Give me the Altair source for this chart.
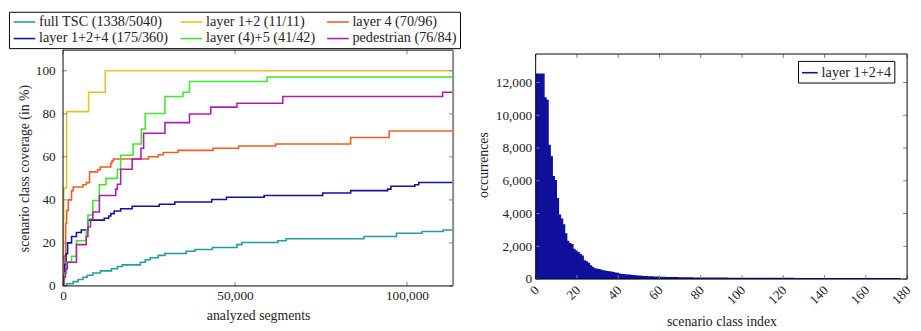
import altair as alt
import pandas as pd

FONT = "Liberation Serif"
TXT = "#222222"
TICK = "#808080"

# ---------------- left panel: coverage curves ----------------
SERIES = ["full TSC (1338/5040)", "layer 1+2 (11/11)", "layer 4 (70/96)",
          "layer 1+2+4 (175/360)", "layer (4)+5 (41/42)", "pedestrian (76/84)"]
COLORS = ["#21a09b", "#e9c21c", "#f25c22", "#13139e", "#40e82c", "#b11db1"]
# legend is filled column by column (2 rows x 3 columns)
LEGEND_ORDER = [0, 3, 1, 4, 2, 5]

TSC_X = [0, 1050, 2950, 4380, 5810, 7050, 8670, 10860, 14100, 15810, 17230, 22480, 23910,
         25340, 27710, 29620, 35810, 38380, 43430, 50570, 52000, 62480, 64860, 87520,
         96950, 104380, 110570]
TSC_Y = [0, 1, 2, 3, 4, 5, 6, 7, 8, 9, 9.8, 11, 12.2, 13.1, 14.2, 15.1, 16.1, 16.9, 17.9,
         19.2, 20.2, 21, 21.9, 23, 24.5, 25.3, 26]

L12_X = [0, 100, 200, 1050, 7430, 12290]
L12_Y = [12, 30, 45.5, 81, 90, 100]

L4_X = [0, 150, 370, 770, 1050, 1520, 2480, 2950, 5810, 6760, 7710, 10100, 10860, 13900,
        14200, 14670, 24860, 27710, 29140, 33430, 43630, 51050, 61800, 83630, 94860]
L4_Y = [0, 5, 14, 29, 35, 40, 44.3, 46, 47, 48, 53, 54, 55.3, 57, 58, 59, 60, 61, 62, 63,
        64, 65, 66, 69, 72]

L124_X = [0, 200, 500, 900, 1340, 2480, 3900, 5300, 7240, 12000, 13300, 13900, 14860,
          16760, 20100, 28000, 32480, 43230, 47520, 58480, 75510, 83630, 94380, 95340,
          102290, 103430]
L124_Y = [0, 4, 10, 15, 20, 23, 24.8, 26, 30.6, 31.5, 32.5, 33.6, 34.8, 35.9, 37, 38, 39,
          40.2, 41.2, 42, 43.2, 44.3, 45, 46.3, 47, 48.1]

L45_X = [0, 200, 500, 1050, 2480, 3900, 6760, 7240, 8670, 10570, 12480, 15810, 16760,
         20380, 22770, 23910, 29630, 34860, 36770, 59340]
L45_Y = [0, 3, 6, 11.1, 13.8, 21, 26, 33, 39.7, 47, 50, 54.2, 60.7, 66, 72.9, 80.1, 88,
         90, 95, 97.1]

PED_X = [0, 200, 700, 1240, 3900, 6760, 7240, 8000, 8670, 10570, 15340, 15800, 16760,
         20100, 22660, 23430, 29630, 36770, 42950, 50570, 63900, 110380]
PED_Y = [0, 4, 8, 11, 19.2, 23, 27.5, 31, 34.4, 42, 45, 47.3, 54.2, 59, 64, 71, 75.9,
         79.9, 83.1, 84.9, 88, 90]

CURVES_X = [TSC_X, L12_X, L4_X, L124_X, L45_X, PED_X]
CURVES_Y = [TSC_Y, L12_Y, L4_Y, L124_Y, L45_Y, PED_Y]

LEFT_XTICKS = [0, 50000, 100000]
LEFT_YTICKS = [0, 20, 40, 60, 80, 100]
X_MAX = 113430
Y_MAX = 109.6

# ---------------- right panel: histogram ----------------
HIST_NAME = "layer 1+2+4"
HIST_COLOR = "#10109c"
HIST_COUNTS = [
    12500, 12500, 12500, 12500, 11050, 10900, 8150, 7450, 6250, 6000,
    4900, 3900, 3650, 3300, 2750, 2300, 2150, 2100, 1800, 1700,
    1600, 1500, 1400, 1100, 1050, 950, 800, 700, 620, 600,
    570, 540, 500, 480, 450, 430, 410, 390, 360, 340,
    300, 270, 260, 250, 240, 230, 210, 200, 190, 180,
    170, 150, 140, 135, 130, 125, 120, 115, 110, 105,
    100, 95, 90, 88, 85, 82, 80, 78, 75, 72,
    70, 68, 66, 64, 62, 60, 58, 56, 54, 53,
    52, 51, 50, 49, 48, 47, 46, 45, 45, 44,
    44, 43, 43, 42, 42, 41, 41, 40, 40, 39,
    38, 38, 37, 37, 36, 36, 35, 35, 34, 34,
    33, 33, 32, 32, 31, 31, 30, 30, 30, 29,
    29, 29, 28, 28, 28, 27, 27, 27, 26, 26,
    26, 25, 25, 25, 24, 24, 24, 23, 23, 23,
    22, 22, 22, 21, 21, 21, 20, 20, 20, 20,
    19, 19, 19, 19, 18, 18, 18, 18, 17, 17,
    17, 17, 16, 16, 16, 16, 15, 15, 15, 15,
    14, 14, 14, 14, 13, 13, 12]
RIGHT_XTICKS = [0, 20, 40, 60, 80, 100, 120, 140, 160, 180]
RIGHT_YTICKS = [0, 2000, 4000, 6000, 8000, 10000, 12000]
HX_MAX = 180
HY_MAX = 13980

# ---------------- build tables ----------------
rows = []
for name, xs, ys in zip(SERIES, CURVES_X, CURVES_Y):
    for x, y in zip(xs, ys):
        rows.append({"series": name, "x": x, "y": y})
    rows.append({"series": name, "x": X_MAX, "y": ys[-1]})
cov = pd.DataFrame(rows)

hist_rows = [{"series": HIST_NAME, "x": i, "y": c} for i, c in enumerate(HIST_COUNTS)]
hist_rows.append({"series": HIST_NAME, "x": len(HIST_COUNTS), "y": HIST_COUNTS[-1]})
hist = pd.DataFrame(hist_rows)

one = pd.DataFrame({"k": [0]})

W1, H1 = 397, 240
W2, H2 = 378, 233
TOP2 = 4  # right panel frame starts a little lower

axis_common = dict(ticks=False, domain=False, grid=False, labelFont=FONT,
                   labelFontSize=13.5, labelColor=TXT, titleFont=FONT, titleFontSize=14,
                   titleFontWeight="normal", titleColor=TXT, labelFlush=False,
                   labelOverlap=False)


def tick_layers(xticks, yticks, xs, ys, xa, ya, w, h, top):
    tx = pd.DataFrame({"x": xticks})
    ty = pd.DataFrame({"y": yticks})
    out = []
    out.append(alt.Chart(tx).mark_rule(color=TICK, strokeWidth=1).encode(
        x=alt.X("x:Q", scale=xs, axis=xa), y=alt.value(h), y2=alt.value(h - 4)))
    out.append(alt.Chart(tx).mark_rule(color=TICK, strokeWidth=1).encode(
        x=alt.X("x:Q", scale=xs, axis=xa), y=alt.value(top), y2=alt.value(top + 4)))
    out.append(alt.Chart(ty).mark_rule(color=TICK, strokeWidth=1).encode(
        y=alt.Y("y:Q", scale=ys, axis=ya), x=alt.value(0), x2=alt.value(4)))
    out.append(alt.Chart(ty).mark_rule(color=TICK, strokeWidth=1).encode(
        y=alt.Y("y:Q", scale=ys, axis=ya), x=alt.value(w), x2=alt.value(w - 4)))
    return out


def frame_layers(w, h, top, right_color, right_width):
    base = alt.Chart(one)
    return [
        base.mark_rule(color="black", strokeWidth=1).encode(
            x=alt.value(0), x2=alt.value(w), y=alt.value(top)),
        base.mark_rule(color="black", strokeWidth=1).encode(
            x=alt.value(0), x2=alt.value(w), y=alt.value(h)),
        base.mark_rule(color="black", strokeWidth=1).encode(
            x=alt.value(0), y=alt.value(top), y2=alt.value(h)),
        base.mark_rule(color=right_color, strokeWidth=right_width).encode(
            x=alt.value(w), y=alt.value(top), y2=alt.value(h)),
    ]


# left chart
xs1 = alt.Scale(domain=[0, X_MAX], nice=False, zero=False)
ys1 = alt.Scale(domain=[0, Y_MAX], nice=False)
x_axis1 = alt.Axis(values=LEFT_XTICKS, format=",.0f", title="analyzed segments",
                   labelPadding=3, titlePadding=7, **axis_common)
y_axis1 = alt.Axis(values=LEFT_YTICKS, format=".0f", title="scenario class coverage (in %)",
                   labelPadding=8, titlePadding=4, **axis_common)

lines = alt.Chart(cov).mark_line(interpolate="step-after", strokeWidth=1.6, clip=True).encode(
    x=alt.X("x:Q", scale=xs1, axis=x_axis1),
    y=alt.Y("y:Q", scale=ys1, axis=y_axis1),
    color=alt.Color("series:N",
                    scale=alt.Scale(domain=[SERIES[i] for i in LEGEND_ORDER],
                                    range=[COLORS[i] for i in LEGEND_ORDER]),
                    legend=alt.Legend(orient="none", legendX=-55, legendY=-39, columns=3,
                                      symbolType="M-1,0H3", symbolSize=121,
                                      symbolStrokeWidth=1.6, labelFont=FONT,
                                      labelFontSize=14.5, labelColor=TXT,
                                      strokeColor="black", fillColor="white", padding=3,
                                      columnPadding=8, rowPadding=2, labelOffset=13,
                                      title=None)),
)

left = alt.layer(lines,
                 *tick_layers(LEFT_XTICKS, LEFT_YTICKS, xs1, ys1, x_axis1, y_axis1, W1, H1, 0),
                 *frame_layers(W1, H1, 0, "#8a8a8a", 2)).properties(width=W1, height=H1)

# right chart
xs2 = alt.Scale(domain=[0, HX_MAX], nice=False, zero=False)
ys2 = alt.Scale(domain=[0, HY_MAX], nice=False)
x_axis2 = alt.Axis(values=RIGHT_XTICKS, format=".0f", title="scenario class index",
                   labelAngle=315, labelAlign="right", labelBaseline="middle",
                   labelOffset=1, labelPadding=9, titlePadding=8, **axis_common)
y_axis2 = alt.Axis(values=RIGHT_YTICKS, format=",.0f", title="occurrences", labelPadding=4,
                   titlePadding=5, **axis_common)

area = alt.Chart(hist).mark_area(interpolate="step-after", color=HIST_COLOR, clip=True).encode(
    x=alt.X("x:Q", scale=xs2, axis=x_axis2),
    y=alt.Y("y:Q", scale=ys2, axis=y_axis2),
)
outline = alt.Chart(hist).mark_line(interpolate="step-after", strokeWidth=1.5, clip=True).encode(
    x=alt.X("x:Q", scale=xs2, axis=x_axis2),
    y=alt.Y("y:Q", scale=ys2, axis=y_axis2),
    color=alt.Color("series:N", scale=alt.Scale(domain=[HIST_NAME], range=[HIST_COLOR]),
                    legend=alt.Legend(orient="none", legendX=267, legendY=11,
                                      symbolType="stroke", symbolSize=256,
                                      symbolStrokeWidth=1.6, labelFont=FONT,
                                      labelFontSize=14.5, labelColor=TXT,
                                      strokeColor="black", fillColor="white", padding=3,
                                      labelOffset=3, title=None)),
)
spacer = alt.Chart(one).mark_rule(strokeOpacity=0).encode(
    x=alt.value(0), x2=alt.value(2), y=alt.value(-39.5))

right = alt.layer(area, outline,
                  *tick_layers(RIGHT_XTICKS, RIGHT_YTICKS, xs2, ys2, x_axis2, y_axis2,
                               W2, H2, TOP2),
                  *frame_layers(W2, H2, TOP2, "black", 1),
                  spacer).properties(width=W2, height=H2)

chart = alt.hconcat(left, right, spacing=15).properties(
    padding={"left": 0, "top": 0, "right": 0, "bottom": 0}
).configure_view(strokeWidth=0).resolve_scale(color="independent")

chart.save("out.html", embed_options={"renderer": "svg", "actions": False})
